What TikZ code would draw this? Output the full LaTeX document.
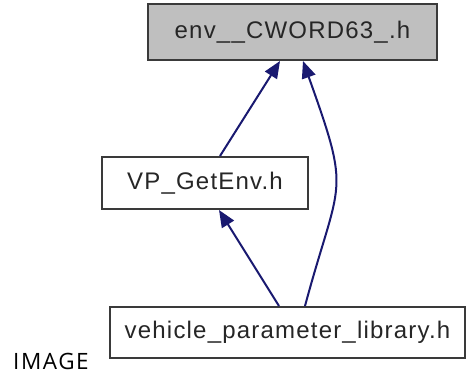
\documentclass[tikz,border=0pt]{standalone}
\usepackage{fontspec}
\setmainfont{Liberation Sans}[LetterSpace=5]
\newfontfamily\captionfont{Open Sans}[LetterSpace=7]
\usetikzlibrary{arrows.meta}
\definecolor{edgeblue}{HTML}{191970}
\definecolor{boxline}{HTML}{3A3A3A}
\definecolor{boxgray}{HTML}{BFBFBF}
\tikzset{
  filebox/.style={draw=boxline, line width=2pt, fill=white, inner sep=0pt,
    font=\fontsize{24}{28}\selectfont, text=black!85},
  dep/.style={draw=edgeblue, line width=2pt,
    -{Triangle[length=17pt,width=14pt]}}
}
\begin{document}
\begin{tikzpicture}[x=1pt,y=1pt]
  \useasboundingbox (0,0) rectangle (468,373);
  % header file nodes
  \node[filebox, fill=boxgray, minimum width=289pt, minimum height=56pt] (env) at (292.5,341) {env\_\_CWORD63\_.h};
  \node[filebox, minimum width=206pt, minimum height=52pt] (vp) at (205,190) {VP\_GetEnv.h};
  \node[filebox, minimum width=355pt, minimum height=51pt] (lib) at (287.5,40.5) {vehicle\_parameter\_library.h};
  % caption
  \node[anchor=base west, inner sep=0pt, font=\captionfont\fontsize{22.5}{26}\selectfont] (cap) at (13,4) {IMAGE};
  % include dependencies
  \draw[dep] ([xshift=15pt]vp.north) -- ([xshift=-12.5pt]env.south);
  \draw[dep] ([xshift=-8.5pt]lib.north) -- ([xshift=14pt]vp.south);
  \draw[dep] ([xshift=17.5pt]lib.north) .. controls +(35,130) and +(49,-137) .. ([xshift=10.5pt]env.south);
\end{tikzpicture}
\end{document}
